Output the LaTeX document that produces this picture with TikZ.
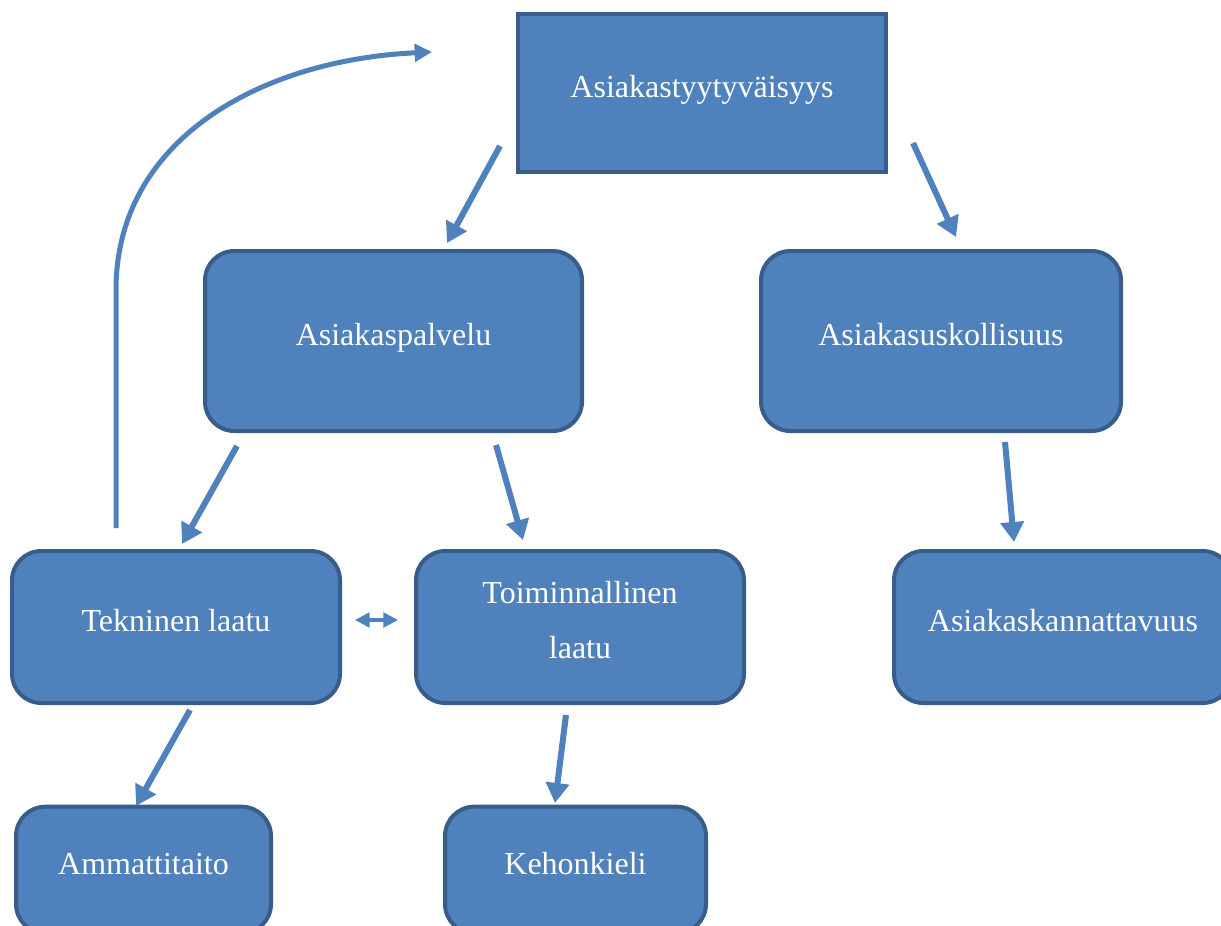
\documentclass[tikz,border=0pt]{standalone}
\usepackage{fontspec}
\setmainfont{Liberation Serif}
\usetikzlibrary{arrows.meta}
\definecolor{boxfill}{HTML}{4F81BD}
\definecolor{boxline}{HTML}{385D8A}
\begin{document}
\begin{tikzpicture}[x=0.75pt, y=-0.75pt,
	box/.style = {draw = boxline, line width = 3pt, fill = boxfill, text = white,
		font = \fontsize{24}{29}\selectfont, align = center,
		text height = 18pt, text depth = 12pt},
	roundbox/.style = {box, rounded corners = 22pt},
	link/.style = {draw = boxfill, line width = 4.5pt,
		-{Triangle[length = 15pt, width = 17pt]}},
	backlink/.style = {draw = boxfill, line width = 3.75pt,
		-{Triangle[length = 13pt, width = 13pt]}},
	both/.style = {draw = boxfill, line width = 2.5pt,
		{Triangle[length = 11pt, width = 11pt]}-{Triangle[length = 11pt, width = 11pt]}}]

	\useasboundingbox (0, 0) rectangle (1221, 925);

	\coordinate (s1) at (500, 146);
	\coordinate (e1) at (447, 243);
	\coordinate (s2) at (913, 143);
	\coordinate (e2) at (956, 237);
	\coordinate (s3) at (237, 446);
	\coordinate (e3) at (182, 544);
	\coordinate (s4) at (496, 445);
	\coordinate (e4) at (523, 540);
	\coordinate (s5) at (1005, 442);
	\coordinate (e5) at (1014, 542);
	\coordinate (s6) at (190, 710);
	\coordinate (e6) at (136, 806);
	\coordinate (s7) at (566, 715);
	\coordinate (e7) at (555, 803);
	\coordinate (s8) at (355, 620);
	\coordinate (e8) at (398, 620);
	\coordinate (s9) at (116, 528);
	\coordinate (m9) at (116, 290);
	\coordinate (e9) at (432, 52);

	\node [box, minimum width = 276pt, minimum height = 118.5pt] (ty) at (702, 93) {Asiakastyytyväisyys};
	\node [roundbox, minimum width = 282.75pt, minimum height = 135pt] (ap) at (393.5, 341) {Asiakaspalvelu};
	\node [roundbox, minimum width = 270pt, minimum height = 135pt] (au) at (941, 341) {Asiakasuskollisuus};
	\node [roundbox, minimum width = 246pt, minimum height = 114pt] (tl) at (176, 627) {Tekninen laatu};
	\node [roundbox, minimum width = 246pt, minimum height = 114pt,
		font = \fontsize{24}{41}\selectfont, text height = 58pt, text depth = 11pt] (tm) at (580, 627) {Toiminnallinen\\laatu};
	\node [roundbox, minimum width = 253.5pt, minimum height = 114pt] (ak) at (1063, 627) {Asiakaskannattavuus};
	\node [roundbox, minimum width = 191.25pt, minimum height = 95pt] (am) at (143.5, 870) {Ammattitaito};
	\node [roundbox, minimum width = 195.75pt, minimum height = 95pt] (ke) at (575.5, 870) {Kehonkieli};

	\draw [link] (s1) -- (e1);
	\draw [link] (s2) -- (e2);
	\draw [link] (s3) -- (e3);
	\draw [link] (s4) -- (e4);
	\draw [link] (s5) -- (e5);
	\draw [link] (s6) -- (e6);
	\draw [link] (s7) -- (e7);

	\draw [both] (s8) -- (e8);

	\draw [backlink] (s9) -- (m9) .. controls (116, 140) and (260, 60) .. (e9);
\end{tikzpicture}
\end{document}
